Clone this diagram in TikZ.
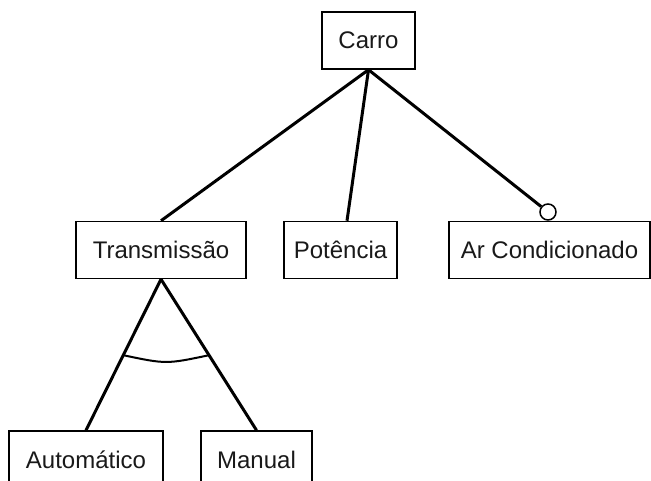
\documentclass[tikz,border=0pt]{standalone}
\usepackage{fontspec}
\setmainfont{Liberation Sans}
\usetikzlibrary{calc}
\begin{document}
\begin{tikzpicture}[x=1pt,y=-1pt,
  feat/.style={draw=black,line width=1.5pt,fill=white,inner sep=0pt,minimum height=57pt,
    font=\fontsize{24}{28}\selectfont,text=black!90},
  conn/.style={line width=3pt},
  optc/.style={circle,draw=black,line width=1.5pt,fill=white,minimum size=16pt,inner sep=0pt}]
\useasboundingbox (0,0) rectangle (651,481);
\node[feat,minimum width=93pt] (carro) at (368.5,40.5) {Carro};
\node[feat,minimum width=170pt] (trans) at (161,250) {Transmissão};
\node[feat,minimum width=113pt] (pot) at (340.5,250) {Potência};
\node[feat,minimum width=201pt] (ar) at (549.5,250) {Ar Condicionado};
\node[feat,minimum width=154pt] (auto) at (86,459.5) {Automático};
\node[feat,minimum width=111pt] (man) at (256.5,459.5) {Manual};
\node[optc,anchor=south] (opt) at ($(ar.north)+(-1.5,0)$) {};
\draw[conn] (carro.south) -- (trans.north);
\draw[conn] (carro.south) -- ($(pot.north)+(6.5,0)$);
\draw[conn] (carro.south) -- (opt);
\draw[conn] (trans.south) -- (auto.north);
\draw[conn] (trans.south) -- (man.north);
\draw[line width=2pt] ($(trans.south)!0.503!(auto.north)$) .. controls ($($(trans.south)!0.503!(auto.north)$)!0.5!($(trans.south)!0.503!(man.north)$)+(0,9)$) .. ($(trans.south)!0.503!(man.north)$);
\end{tikzpicture}
\end{document}
